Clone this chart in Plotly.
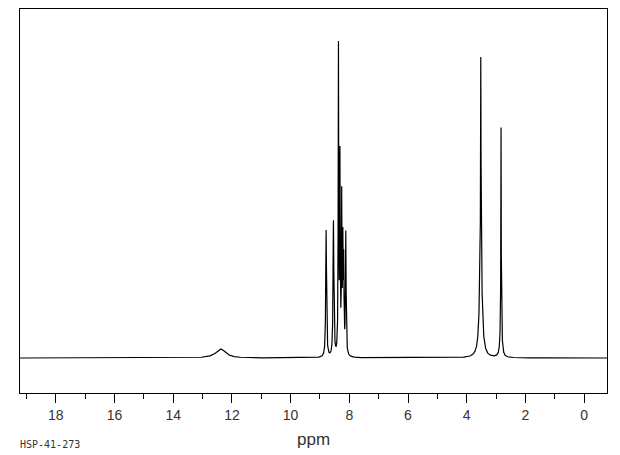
import numpy as np
import plotly.graph_objects as go

# Peak list (ppm, height above baseline, half-width in ppm)
peak_ppm = [12.38, 8.79, 8.54, 8.37, 8.32, 8.26, 8.22, 8.19, 8.12, 3.52, 3.52, 2.83, 2.83]
peak_height = [9, 127, 135, 304, 192, 152, 104, 86, 122, 196, 105, 188, 42]
peak_width = [0.20, 0.016, 0.016, 0.010, 0.011, 0.011, 0.011, 0.011, 0.013, 0.008, 0.05, 0.007, 0.03]

tick_vals = [18, 16, 14, 12, 10, 8, 6, 4, 2, 0]
tick_text = ["18", "16", "14", "12", "10", "8", "6", "4", "2", "0"]
minor_vals = [19, 17, 15, 13, 11, 9, 7, 5, 3, 1]

x_range = [19.22, -0.78]
y_range = [-35, 349]

ppm = np.linspace(19.3, -0.9, 20201)
intensity = np.zeros_like(ppm)
for c, h, g in zip(peak_ppm, peak_height, peak_width):
    intensity += h * g**2 / ((ppm - c) ** 2 + g**2)

fig = go.Figure()
fig.add_trace(go.Scatter(x=ppm, y=intensity, mode="lines",
                         line=dict(color="black", width=1.2), hoverinfo="skip"))

fig.update_layout(
    width=612, height=447,
    margin=dict(l=12, r=13, t=1, b=62),
    plot_bgcolor="white", paper_bgcolor="white",
    showlegend=False,
    xaxis=dict(range=x_range, showgrid=False, zeroline=False,
               showline=True, linecolor="black", linewidth=1, mirror=True,
               tickmode="array", tickvals=tick_vals, ticktext=tick_text,
               ticks="outside", ticklen=9, tickcolor="black", tickwidth=1,
               tickfont=dict(family="Liberation Sans", size=14, color="#333"),
               minor=dict(tickmode="array", tickvals=minor_vals, ticks="outside",
                          ticklen=5, tickcolor="black", tickwidth=1)),
    yaxis=dict(range=y_range, showgrid=False, zeroline=False,
               showline=True, linecolor="black", linewidth=1, mirror=True,
               showticklabels=False, ticks=""),
    annotations=[
        dict(text="ppm", xref="paper", yref="paper", x=0.5, y=-0.122,
             xanchor="center", yanchor="middle", showarrow=False,
             font=dict(family="Liberation Sans", size=17, color="#333")),
        dict(text="HSP-41-273", xref="paper", yref="paper", x=-0.004, y=-0.133,
             xanchor="left", yanchor="middle", showarrow=False,
             font=dict(family="DejaVu Sans Mono", size=10, color="#333")),
    ],
)

fig.write_html("out.html")
